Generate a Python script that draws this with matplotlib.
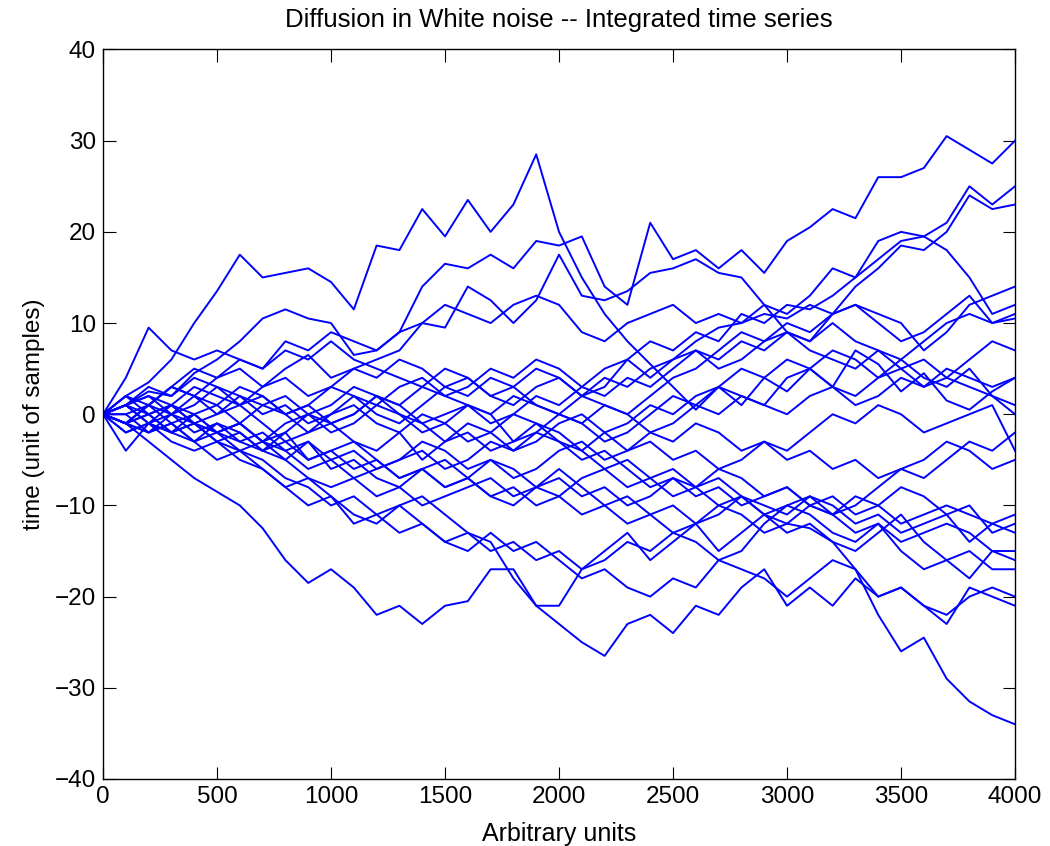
import numpy as np
import matplotlib
matplotlib.use("Agg")
import matplotlib.pyplot as plt

plt.rcParams['font.family'] = ['Liberation Sans', 'DejaVu Sans']

# sample positions (every 100 samples)
t = list(range(0, 4001, 100))

# integrated series (value at each sample position)
p1 = [0, 2, 3.5, 6, 10, 13.5, 17.5, 15, 15.5, 16, 14.5, 11.5, 18.5, 18, 22.5, 19.5, 23.5, 20, 23, 28.5, 20, 15, 11, 8, 5.5, 3, 0.5, 3, 1, 4, 2.5, 5, 3, 7, 5.5, 2.5, 4.5, 1.5, 0.5, 2.5, 4]
p2 = [0, 1, 2.5, 2, 4.5, 6, 8, 10.5, 11.5, 10.5, 10, 6.5, 7, 9, 14, 16.5, 16, 17.5, 16, 19, 18.5, 19.5, 14, 12, 21, 17, 18, 16, 18, 15.5, 19, 20.5, 22.5, 21.5, 26, 26, 27, 30.5, 29, 27.5, 30]
p3 = [0, -1, 1, 3, 2, 4, 5, 3, 5, 6.5, 4, 5, 6, 7, 10, 9.5, 14, 12.5, 10, 12.5, 17.5, 13, 12.5, 13.5, 15.5, 16, 17, 15.5, 15, 12, 9, 8, 11, 12, 11, 10, 7, 9, 12, 13, 14]
p4 = [0, 1, -1, 0, 2, 1, 3, 2, 0, 1, 3, 2, 0, -1, 1, 3, 2, 4, 3, 5, 4, 2, 3, 6, 8, 7, 9, 8, 11, 10, 12, 11.5, 13, 15, 17, 19, 19.5, 21, 25, 23, 25]
p5 = [0, -1, 0, 1, -1, 0, 2, 1, 0, -2, -1, 0, 2, 1, 3, 2, 1, 0, 2, 1, 0, 2, 4, 3, 5, 6, 8, 9.5, 10, 11, 10.5, 12, 11, 14, 16, 18.5, 18, 20, 24, 22.5, 23]
p6 = [0, 2, 1, 3, 5, 4, 6, 5, 8, 7, 9, 8, 7, 9, 10, 12, 11, 10, 12, 13, 12, 9, 8, 10, 11, 12, 10, 11, 10, 12, 11, 13, 16, 15, 19, 20, 19.5, 18, 15, 11, 12]
p7 = [0, 1, 2, 1, 3, 2, 1, 3, 4, 2, 3, 5, 4, 6, 5, 3, 4, 2, 1, 3, 4, 2, 1, 0, 2, 4, 5, 7, 9, 8, 10, 9, 11, 12, 10, 8, 9, 11, 13, 10, 10.5]
p8 = [0, -2, -1, 1, 0, -2, -1, 1, 2, 0, 1, 3, 2, 0, -2, -1, 1, 0, -3, -2, 0, -1, -3, -2, 0, 2, 1, 3, 2, 1, 4, 5, 3, 2, 4, 6, 4, 3, 5, 2, 0]
p9 = [0, 1, -1, -2, 0, 1, -1, -3, -2, 0, -1, -3, -4, -2, -5, -3, -1, -2, -4, -3, -1, 0, -2, -4, -3, -5, -4, -6, -5, -3, -4, -2, 0, -1, 1, 0, -2, -1, 0, 1, -4]
m1 = [0, 1, 2, 0, 1, 3, 2, 0, 1, -1, 0, 2, 1, 3, 4, 2, 3, 5, 4, 6, 5, 3, 2, 4, 3, 5, 7, 6, 8, 7, 9, 8, 10, 8, 7, 5, 6, 4, 3, 2, 1]
m2 = [0, -1, -2, 0, -1, -2, -3, -2, -4, -3, -5, -4, -6, -5, -3, -4, -6, -5, -7, -6, -4, -3, -5, -4, -2, -3, -1, -2, -4, -3, -5, -4, -6, -5, -7, -6, -5, -3, -4, -6, -5]
m3 = [0, 1, 3, 2, 4, 3, 1, 2, 0, 1, -1, 0, 2, 1, -1, 0, 1, -1, 0, 2, 1, 3, 5, 6, 4, 6, 7, 5, 6, 8, 9, 7, 6, 5, 7, 6, 8, 10, 11, 10, 11]
m4 = [0, 4, 9.5, 7, 6, 7, 6, 5, 7, 6, 8, 6, 5, 4, 3, 5, 4, 2, 3, 1, 0, -1, 1, 0, -2, -1, 1, 0, 2, 1, 0, 2, 3, 1, 2, 4, 3, 5, 4, 3, 4]
m5 = [0, -1, 1, 3, 2, 0, 1, -1, -3, -2, 0, 1, -1, -2, 0, -1, -3, -2, 0, -1, -3, -4, -2, -1, 1, 0, 2, 3, 5, 4, 6, 5, 7, 6, 4, 5, 3, 4, 6, 8, 7]
m6 = [0, 0, 1, -1, 0, -2, -1, -3, -1, 0, -2, -1, 1, 0, -1, -3, -2, -4, -3, -1, -2, -4, -6, -5, -7, -6, -8, -7, -9, -11, -10, -9, -11, -10, -8, -6, -7, -5, -3, -4, -2]
l1 = [0, -1, -3, -5, -7, -8.5, -10, -12.5, -16, -18.5, -17, -19, -22, -21, -23, -21, -20.5, -17, -17, -21, -21, -17, -15, -13, -16, -14, -12, -15, -13, -11, -13, -12, -14, -15, -13, -11, -14, -16, -15, -17, -17]
l2 = [0, -2, -1, -3, -4, -3, -5, -6, -8, -7, -9, -11, -12, -10, -9, -11, -13, -14, -18, -21, -23, -25, -26.5, -23, -22, -24, -21, -22, -19, -17, -21, -19, -21, -18, -20, -19, -21, -23, -19, -20, -21]
l3 = [0, -4, -1, -2, -1, -3, -2, -4, -5, -3, -6, -5, -7, -8, -6, -5, -7, -9, -8, -10, -9, -11, -10, -12, -11, -13, -12, -10, -11, -13, -12, -12.5, -14, -17, -22, -26, -24.5, -29, -31.5, -33, -34]
l4 = [0, -1, -2, -1, -3, -5, -4, -6, -8, -10, -9, -12, -11, -13, -12, -14, -15, -13, -15, -14, -16, -18, -17, -19, -20, -18, -19, -16, -17, -18, -20, -18, -16, -17, -20, -19, -21, -22, -20, -19, -20]
l5 = [0, 1, 0, -2, -1, -3, -4, -3, -5, -7, -8, -7, -9, -8, -10, -9, -8, -7, -9, -8, -6, -8, -10, -9, -11, -10, -12, -11, -9, -10, -11, -9, -10, -12, -11, -13, -12, -11, -14, -12, -13]
l6 = [0, -1, 1, 0, -2, -1, -3, -4, -2, -5, -4, -6, -5, -7, -6, -8, -7, -5, -6, -8, -7, -9, -8, -10, -9, -7, -8, -10, -9, -11, -12, -10, -11, -13, -12, -14, -13, -12, -13, -15, -15]
l7 = [0, 0, -2, -1, -3, -2, -1, -3, -4, -6, -5, -7, -6, -5, -4, -6, -5, -3, -4, -2, -3, -5, -4, -6, -8, -7, -9, -8, -10, -9, -8, -10, -11, -9, -10, -12, -11, -10, -11, -12, -11]
l8 = [0, 2, 0, 1, -1, -2, -4, -5, -7, -8, -10, -9, -11, -10, -12, -14, -13, -15, -14, -16, -15, -17, -16, -14, -15, -13, -14, -16, -15, -12, -10, -11, -13, -14, -12, -15, -17, -16, -18, -15, -16]
l9 = [0, -1, 0, -2, -3, -1, -2, -4, -3, -5, -4, -3, -5, -7, -6, -8, -7, -9, -10, -8, -9, -7, -6, -8, -7, -9, -8, -6, -7, -9, -8, -10, -9, -11, -10, -8, -9, -11, -10, -13, -12]

series = [p1, p2, p3, p4, p5, p6, p7, p8, p9, m1, m2, m3, m4, m5, m6,
          l1, l2, l3, l4, l5, l6, l7, l8, l9]

xticks = [0, 500, 1000, 1500, 2000, 2500, 3000, 3500, 4000]
yticks = [-40, -30, -20, -10, 0, 10, 20, 30, 40]

fig = plt.figure(figsize=(10.5, 8.46), dpi=100)
ax = fig.add_axes([0.0981, 0.0792, 0.8686, 0.8623])
for s in series:
    ax.plot(t, s, color=(0, 0, 1), linewidth=1.4)

ax.set_xlim(0, 4000)
ax.set_ylim(-40, 40)
ax.set_xticks(xticks)
ax.set_yticks(yticks)
ax.tick_params(direction='in', length=9, width=0.8, top=True, right=True,
               labelsize=17.5, pad=5)
for sp in ax.spines.values():
    sp.set_linewidth(1.0)
ax.set_title('Diffusion in White noise -- Integrated time series', fontsize=18.5, pad=16)
ax.set_xlabel('Arbitrary units', fontsize=18, labelpad=10)
ax.set_ylabel('time (unit of samples)', fontsize=17.5, labelpad=7)

fig.savefig('out.png', dpi=100)
